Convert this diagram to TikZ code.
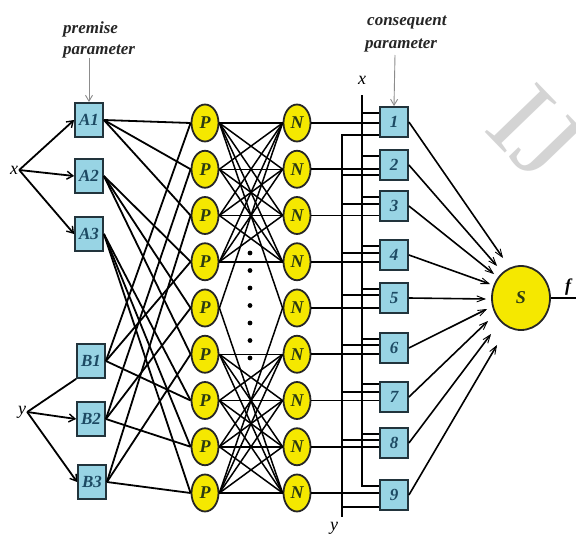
\documentclass[tikz,border=0pt]{standalone}
\usepackage{fontspec}
\setmainfont{Liberation Serif}
\usetikzlibrary{arrows.meta,shapes.geometric,calc}
\definecolor{boxfill}{HTML}{98D4E4}
\definecolor{boxdraw}{HTML}{22343C}
\definecolor{yel}{HTML}{F5E800}
\definecolor{txtg}{HTML}{2B3A12}
\definecolor{txtb}{HTML}{1D4A63}
\begin{document}
\begin{tikzpicture}[x=1pt,y=-1pt,
  pbox/.style={draw=boxdraw,fill=boxfill,line width=1.8pt,minimum width=28pt,minimum height=34pt,inner sep=0pt,text=txtb,font=\fontsize{17}{17}\selectfont\bfseries\itshape},
  cbox/.style={pbox,minimum height=30pt},
  neu/.style={ellipse,draw=black!85,fill=yel,line width=1.8pt,minimum width=27pt,minimum height=37pt,inner sep=0pt,text=txtg,font=\fontsize{18}{18}\selectfont\bfseries\itshape},
  lab/.style={font=\fontsize{17}{17}\selectfont\bfseries\itshape,text=black!85,inner sep=0pt},
  var/.style={font=\fontsize{18}{18}\selectfont\itshape,inner sep=1pt},
  conn/.style={line width=1.8pt,draw=black},
  thinconn/.style={line width=1.5pt,draw=black},
  inarr/.style={conn,-{Straight Barb[length=6pt,width=8pt,line width=1.4pt]}},
  outarr/.style={line width=1.6pt,draw=black,-{Straight Barb[length=8pt,width=6pt,line width=0.9pt]}},
  parr/.style={line width=0.9pt,draw=black!45,-{Straight Barb[length=6pt,width=7pt]}}]
\useasboundingbox (0,0) rectangle (576,538);
\fill[white] (0,0) rectangle (576,538);

% watermark
\node[anchor=base west,inner sep=0pt,rotate=-46,text=black!17,font=\fontsize{110}{110}\selectfont] (wm) at (482,129) {IJ};

% labels on top
\node[lab,anchor=base west] (prem) at (63,33) {premise};
\node[lab,anchor=base west] (par1) at (63,54) {parameter};
\node[lab,anchor=base west] (cons) at (367,25) {consequent};
\node[lab,anchor=base west] (par2) at (365,48) {parameter};

% premise boxes
\node[pbox] (A1) at (89,120) {A1};
\node[pbox] (A2) at (89,176) {A2};
\node[pbox] (A3) at (89,234) {A3};
\node[pbox] (B1) at (91,361) {B1};
\node[pbox] (B2) at (91,419) {B2};
\node[pbox] (B3) at (92,482) {B3};

\node[var] (xl) at (14,170) {x};
\node[var] (yl) at (22,412) {y};

% P and N layers
\foreach \i in {1,...,9}{
  \pgfmathsetmacro\yy{123+46.25*(\i-1)}
  \node[neu] (P\i) at (205,\yy) {P};
  \node[neu] (N\i) at (297,\yy) {N};
}
\foreach \k in {0,...,6} \fill (250,253+17.5*\k) circle (2.4pt);

% consequent boxes
\foreach \i/\yy in {1/122,2/165,3/206,4/255,5/298,6/348,7/397,8/443,9/495}
  \node[cbox] (c\i) at (394,\yy) {\i};

\node[neu,minimum width=58pt,minimum height=64pt] (S) at (521,298) {S};
\node[var,font=\fontsize{18}{18}\selectfont\bfseries\itshape] (fl) at (568,287) {f};
\coordinate (fout) at (576,298);

\node[var] (xv) at (362,80) {x};
\node[var] (yv) at (334,528) {y};
\coordinate (xtop) at (362,95);
\coordinate (ybot) at (342,517);

% input arrows
\draw[parr] (par1.south -| A1.north) -- (A1.north);
\draw[parr] (395,55) -- (c1.north);
\draw[inarr] (xl.east) -- (A1.west);
\draw[inarr] (xl.east) -- (A2.west);
\draw[inarr] (xl.east) -- (A3.west);
\draw[conn] (yl.east) -- (B1.south west);
\draw[inarr] (yl.east) -- (B2.west);
\draw[inarr] (yl.east) -- (B3.west);

% premise -> P
\foreach \p in {1,2,3} \draw[conn] (A1.east) -- (P\p.west);
\foreach \p in {4,5,6} \draw[conn] (A2.east) -- (P\p.west);
\foreach \p in {7,8,9} \draw[conn] (A3.east) -- (P\p.west);
\foreach \p in {1,4,7} \draw[conn] (B1.east) -- (P\p.west);
\foreach \p in {2,5,8} \draw[conn] (B2.east) -- (P\p.west);
\foreach \p in {3,6,9} \draw[conn] (B3.east) -- (P\p.west);

% P -> N
\foreach \i in {1,...,4}{\foreach \j in {1,...,4}{\draw[thinconn] (P\i.east) -- (N\j.west);}}
\foreach \i in {6,...,9}{\foreach \j in {6,...,9}{\draw[thinconn] (P\i.east) -- (N\j.west);}}
\draw[thinconn] (P5.east) -- (N1.west);
\draw[thinconn] (P5.east) -- (N9.west);
\draw[thinconn] (P1.east) -- (N5.west);
\draw[thinconn] (P9.east) -- (N5.west);

% N -> consequent
\foreach \i in {1,...,9} \draw[conn] (N\i.east) -- (N\i.east -| c\i.west);

% x and y buses
\foreach \i/\a/\b in {1/-9/13,2/-9/10,3/-9/-2,4/-9/-2,5/-9/-3,6/-9/-3,7/-13/-5,8/-9/-3,9/-9/12}{
  \coordinate (xs\i) at ($(c\i.west)+(0,\a)$);
  \coordinate (ys\i) at ($(c\i.west)+(0,\b)$);
}
\draw[conn] (xtop) -- (xtop |- xs9) -- (xs9);
\foreach \i in {1,...,8} \draw[conn] (xtop |- xs\i) -- (xs\i);
\draw[conn] (ys1) -- (ybot |- ys1) -- (ybot);
\foreach \i in {2,...,9} \draw[conn] (ybot |- ys\i) -- (ys\i);

% consequent -> S
\foreach \i/\tx/\ty in {1/503/258,2/497/266,3/494/274,4/490/284,5/486/299,6/487/309,7/488/321,8/491/334,9/497/345}{
  \coordinate (t\i) at (\tx,\ty);
  \draw[outarr] (c\i.east) -- (t\i);
}
\draw[conn] (S.east) -- (fout);
\end{tikzpicture}
\end{document}
